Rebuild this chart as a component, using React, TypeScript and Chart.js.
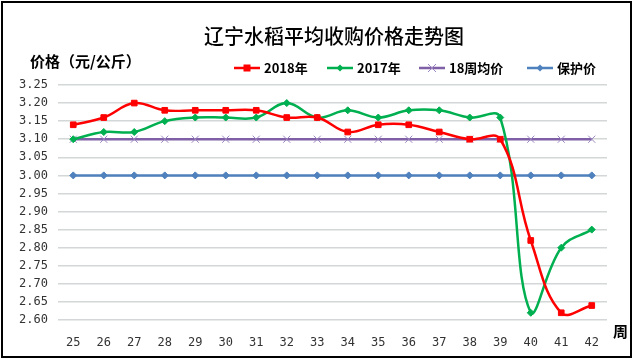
import React, { useEffect, useRef } from "react";
import { Chart, registerables } from "chart.js";

Chart.register(...registerables);

const weeks = ["25","26","27","28","29","30","31","32","33","34","35","36","37","38","39","40","41","42"];
const price2018 = [3.14,3.16,3.20,3.18,3.18,3.18,3.18,3.16,3.16,3.12,3.14,3.14,3.12,3.10,3.10,2.82,2.62,2.64];
const price2017 = [3.10,3.12,3.12,3.15,3.16,3.16,3.16,3.20,3.16,3.18,3.16,3.18,3.18,3.16,3.16,2.62,2.80,2.85];
const avg18 = [3.10,3.10,3.10,3.10,3.10,3.10,3.10,3.10,3.10,3.10,3.10,3.10,3.10,3.10,3.10,3.10,3.10,3.10];
const protectPrice = [3.00,3.00,3.00,3.00,3.00,3.00,3.00,3.00,3.00,3.00,3.00,3.00,3.00,3.00,3.00,3.00,3.00,3.00];
const seriesNames = ["2018年", "2017年", "18周均价", "保护价"];
const titleText = "辽宁水稻平均收购价格走势图";
const yTitle = "价格（元/公斤）";
const xTitle = "周";
const yMin = 2.6;
const yMax = 3.25;
const yStep = 0.05;

const CJK = '"Noto Sans CJK SC", "DejaVu Sans", sans-serif';

const decorPlugin = {
  id: "decor",
  beforeDraw(chart: any) {
    const ctx = chart.ctx;
    ctx.save();
    ctx.fillStyle = "#ffffff";
    ctx.fillRect(0, 0, chart.width, chart.height);
    ctx.restore();
  },
  afterDraw(chart: any) {
    const ctx = chart.ctx;
    ctx.save();
    ctx.strokeStyle = "#000000";
    ctx.lineWidth = 2;
    ctx.strokeRect(2, 2, 629, 355);
    ctx.fillStyle = "#000000";
    ctx.textBaseline = "middle";
    ctx.textAlign = "center";
    ctx.font = `500 20px ${CJK}`;
    ctx.fillText(titleText, 334, 36);
    ctx.textAlign = "left";
    ctx.font = `bold 15px ${CJK}`;
    ctx.fillText(yTitle, 30, 61);
    ctx.font = `bold 15px ${CJK}`;
    ctx.fillText(xTitle, 613, 331);
    const xs = [234, 327, 419, 527];
    const ly = 68;
    ctx.font = `bold 13px ${CJK}`;
    chart.data.datasets.forEach((ds: any, i: number) => {
      const x0 = xs[i];
      ctx.strokeStyle = ds.borderColor;
      ctx.lineWidth = 2.5;
      ctx.beginPath();
      ctx.moveTo(x0, ly);
      ctx.lineTo(x0 + 26, ly);
      ctx.stroke();
      const cx = x0 + 13;
      ctx.fillStyle = ds.pointBackgroundColor;
      ctx.strokeStyle = ds.pointBorderColor;
      ctx.lineWidth = 1;
      if (ds.pointStyle === "rect") {
        ctx.fillRect(cx - 3.5, ly - 3.5, 7, 7);
      } else if (ds.pointStyle === "rectRot") {
        ctx.beginPath();
        ctx.moveTo(cx, ly - 3.5);
        ctx.lineTo(cx + 3.5, ly);
        ctx.lineTo(cx, ly + 3.5);
        ctx.lineTo(cx - 3.5, ly);
        ctx.closePath();
        ctx.fill();
      } else {
        ctx.beginPath();
        ctx.moveTo(cx - 4, ly - 4);
        ctx.lineTo(cx + 4, ly + 4);
        ctx.moveTo(cx + 4, ly - 4);
        ctx.lineTo(cx - 4, ly + 4);
        ctx.stroke();
      }
      ctx.fillStyle = "#000000";
      ctx.fillText(seriesNames[i], x0 + 30, ly);
    });
    ctx.restore();
  },
};

export default function App() {
  const ref = useRef<HTMLCanvasElement | null>(null);
  useEffect(() => {
    document.body.style.margin = "0";
    const canvas = ref.current!;
    const chart = new Chart(canvas, {
      type: "line",
      data: {
        labels: weeks,
        datasets: [
          {
            label: seriesNames[0],
            data: price2018,
            borderColor: "#ff0000",
            backgroundColor: "#ff0000",
            pointBackgroundColor: "#ff0000",
            pointBorderColor: "#ff0000",
            pointStyle: "rect",
            pointRadius: 4,
            pointBorderWidth: 1,
            borderWidth: 2.5,
            tension: 0.4,
          },
          {
            label: seriesNames[1],
            data: price2017,
            borderColor: "#00b050",
            backgroundColor: "#00b050",
            pointBackgroundColor: "#00b050",
            pointBorderColor: "#00b050",
            pointStyle: "rectRot",
            pointRadius: 3.5,
            pointBorderWidth: 1,
            borderWidth: 2.5,
            tension: 0.4,
          },
          {
            label: seriesNames[2],
            data: avg18,
            borderColor: "#7f5fa6",
            backgroundColor: "#7f5fa6",
            pointBackgroundColor: "#9b86c0",
            pointBorderColor: "#9b86c0",
            pointStyle: "crossRot",
            pointRadius: 5,
            pointBorderWidth: 1,
            borderWidth: 2.5,
            tension: 0,
          },
          {
            label: seriesNames[3],
            data: protectPrice,
            borderColor: "#4f81bd",
            backgroundColor: "#4f81bd",
            pointBackgroundColor: "#4f81bd",
            pointBorderColor: "#4f81bd",
            pointStyle: "rectRot",
            pointRadius: 3.5,
            pointBorderWidth: 1,
            borderWidth: 2.5,
            tension: 0,
          },
        ],
      },
      options: {
        responsive: false,
        animation: false,
        layout: { padding: { left: 0, right: 28, top: 85, bottom: 12 } },
        plugins: {
          legend: { display: false },
          title: { display: false },
          tooltip: { enabled: false },
        },
        scales: {
          x: {
            offset: true,
            grid: { display: false },
            border: { display: false },
            ticks: {
              color: "#333333",
              font: { family: '"DejaVu Sans Mono", monospace', size: 12 },
              padding: 8,
              maxRotation: 0,
              autoSkip: false,
            },
            afterFit(scale: any) {
              scale.height = 30;
            },
          },
          y: {
            min: yMin,
            max: yMax,
            grid: { color: "#d3d7d7", lineWidth: 1.5, drawTicks: false },
            border: { display: false },
            ticks: {
              stepSize: yStep,
              color: "#333333",
              font: { family: '"DejaVu Sans Mono", monospace', size: 12 },
              padding: 10,
              callback: (v: any) => Number(v).toFixed(2),
            },
            afterFit(scale: any) {
              scale.width = 58;
            },
          },
        },
      },
      plugins: [decorPlugin],
    } as any);
    return () => chart.destroy();
  }, []);
  return <canvas ref={ref} width={635} height={362} style={{ display: "block" }} />;
}
